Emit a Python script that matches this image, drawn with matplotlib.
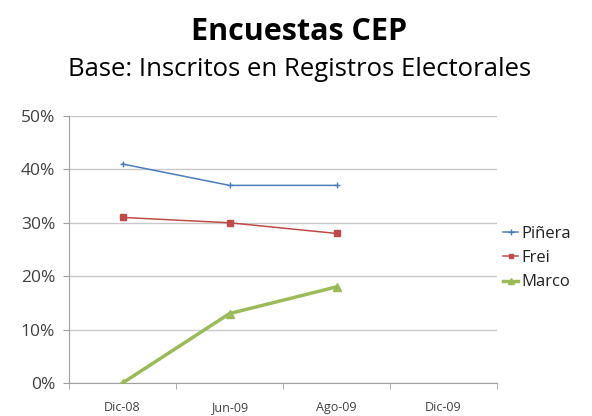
import matplotlib.pyplot as plt
import numpy as np

categorias = ["Dic-08", "Jun-09", "Ago-09", "Dic-09"]
pinera = [41, 37, 37]
frei = [31, 30, 28]
marco = [0, 13, 18]

plt.rcParams['font.family'] = ['Open Sans', 'DejaVu Sans']

fig = plt.figure(figsize=(5.92, 4.16), dpi=100)
ax = fig.add_axes([0.1166, 0.0793, 0.723, 0.642])

x = np.arange(len(pinera))
ax.plot(x, pinera, color='#4A7EBB', linewidth=1.1, marker='+', markersize=5, label='Piñera')
ax.plot(x, frei, color='#BE4B48', linewidth=1.1, marker='s', markersize=4, label='Frei')
ax.plot(x, marco, color='#9BBB59', linewidth=2.5, marker='^', markersize=6, label='Marco')

ax.set_xlim(-0.5, len(categorias) - 0.5)
ax.set_ylim(0, 50)
ax.set_xticks(range(len(categorias)))
ax.set_xticklabels(categorias, fontsize=9, color='#404040')
ax.set_xticks(np.arange(-0.5, len(categorias), 1), minor=True)
ax.tick_params(axis='x', which='major', length=0, pad=13)
ax.tick_params(axis='x', which='minor', length=4, color='#A0A0A0')
ax.set_yticks(range(0, 51, 10))
ax.set_yticklabels([f"{v}%" for v in range(0, 51, 10)], fontsize=12.5, color='#404040')
ax.tick_params(axis='y', length=4, color='#A0A0A0', pad=6)
ax.grid(axis='y', color='#C8C8C8', linewidth=1)
ax.set_axisbelow(True)
for s in ['top', 'right']:
    ax.spines[s].set_visible(False)
for s in ['left', 'bottom']:
    ax.spines[s].set_color('#A0A0A0')
ax.spines['bottom'].set_zorder(0)

ax.legend(loc='center left', bbox_to_anchor=(0.98, 0.468), frameon=False,
          fontsize=12, handlelength=0.9, handletextpad=0.2, labelspacing=0.5,
          labelcolor='#202020', markerscale=0.8)

fig.text(0.506, 0.923, "Encuestas CEP", ha='center', va='center',
         fontsize=22, fontweight='bold')
fig.text(0.506, 0.832, "Base: Inscritos en Registros Electorales", ha='center',
         va='center', fontsize=18.5)

fig.savefig("out.png", dpi=100)
